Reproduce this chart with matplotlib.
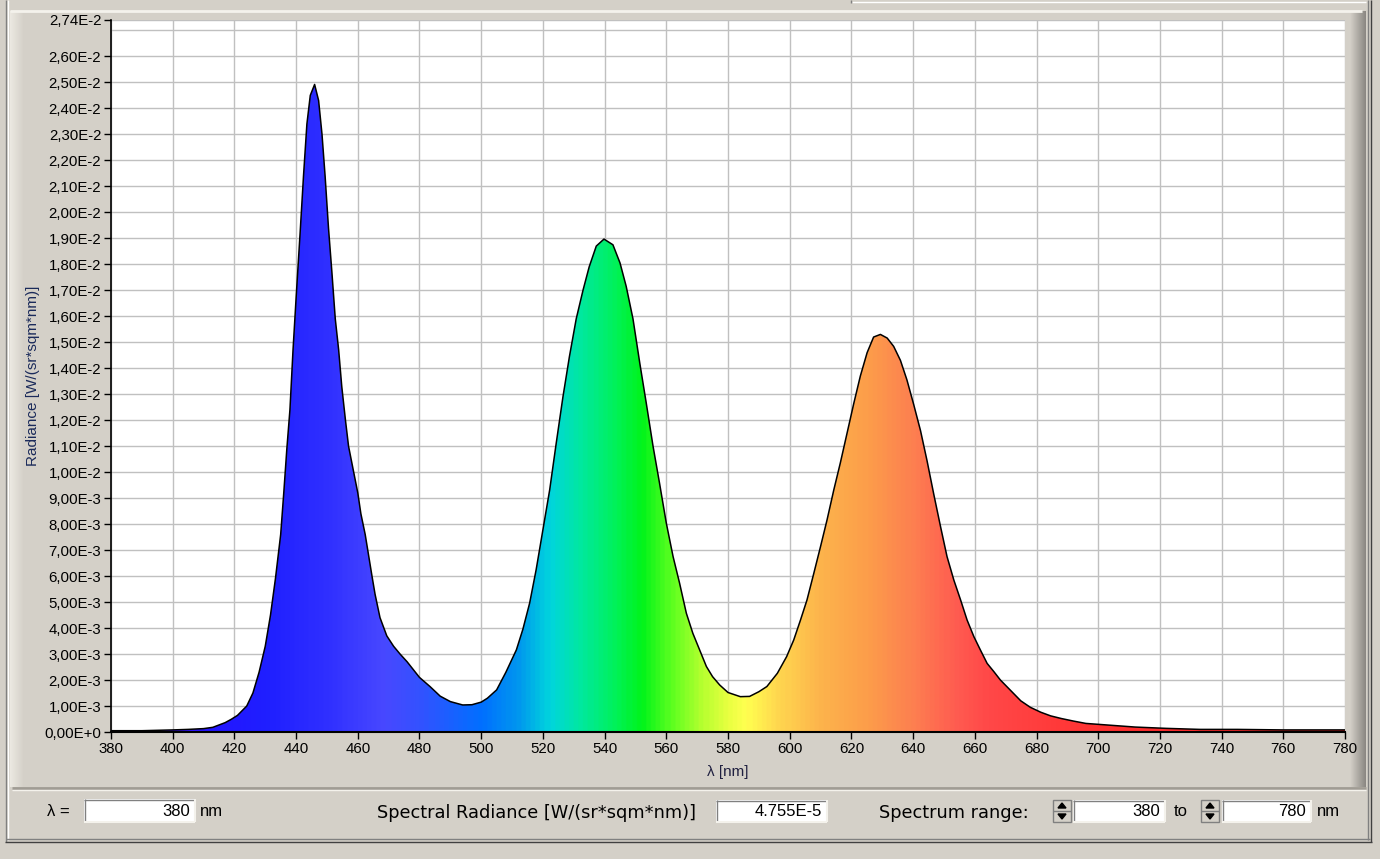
import numpy as np
import matplotlib
matplotlib.use('Agg')
import matplotlib.pyplot as plt
from matplotlib.colors import LinearSegmentedColormap, to_rgb
from matplotlib.patches import Rectangle, Polygon

plt.rcParams['font.family'] = ['Liberation Sans', 'DejaVu Sans']

# spectrum (nm, radiance in 1E-3 W/(sr*sqm*nm))
wavelength = [380, 390, 400, 405, 410, 413, 415, 417, 419, 421, 424, 426, 428, 430,
              431.7, 433.3, 435, 436, 437, 438, 439, 440, 441.4, 442.4, 443.5, 444.6,
              446, 447.3, 448.4, 449.4, 450.5, 451.6, 452.7, 453.8, 454.8, 456, 457,
              458, 459, 460, 461, 462.4, 463.5, 464.6, 465.6, 467.2, 469.4, 471.6,
              473.7, 476, 478, 480, 483.4, 486.7, 490, 494, 497, 500, 502, 505, 508,
              511.4, 513.5, 515.7, 517.8, 520, 522.2, 524.3, 526.5, 528.6, 530.8, 533,
              535, 537.3, 539.8, 542.7, 545, 547, 549.2, 551.4, 553.5, 555.7, 557.8,
              560, 562.2, 564.3, 566.5, 568.6, 570.8, 573, 575, 577.3, 580, 584, 587,
              590, 592.6, 596, 599, 601.3, 603.5, 605.6, 607.8, 610, 612.1, 614.3,
              616.4, 618.6, 620.8, 622.9, 625.1, 627.2, 629.4, 631.6, 633.7, 635.9,
              638, 640.2, 642.4, 644.5, 646.7, 648.9, 651, 653.2, 655.4, 657.5, 659.7,
              661.8, 664, 666.2, 668.3, 671.6, 674.9, 678, 681.4, 684.6, 688, 692, 696,
              703, 712, 722, 733, 745, 760, 780]
radiance_e3 = [0.05, 0.05, 0.08, 0.10, 0.13, 0.18, 0.27, 0.36, 0.49, 0.64, 1.0, 1.5, 2.3, 3.3,
               4.5, 5.9, 7.6, 9.2, 10.9, 12.4, 14.7, 16.7, 19.4, 21.4, 23.4, 24.5,
               24.92, 24.3, 23.0, 21.4, 19.4, 17.7, 15.9, 14.7, 13.3, 12.0, 11.0,
               10.4, 9.8, 9.2, 8.4, 7.6, 6.8, 6.0, 5.3, 4.4, 3.7, 3.3,
               3.0, 2.7, 2.4, 2.1, 1.75, 1.38, 1.17, 1.04, 1.05, 1.15, 1.3, 1.62, 2.3,
               3.16, 3.95, 4.96, 6.24, 7.78, 9.32, 11.1, 12.9, 14.45, 15.9, 17.0,
               17.9, 18.7, 18.97, 18.75, 18.05, 17.15, 15.9, 14.2, 12.66, 11.0, 9.58,
               8.04, 6.75, 5.73, 4.57, 3.8, 3.16, 2.52, 2.13, 1.81, 1.52, 1.36, 1.37,
               1.55, 1.75, 2.26, 2.9, 3.54, 4.31, 5.08, 6.1, 7.14, 8.16, 9.32,
               10.35, 11.5, 12.66, 13.7, 14.6, 15.2, 15.3, 15.16, 14.84, 14.3,
               13.55, 12.6, 11.6, 10.45, 9.15, 7.9, 6.75, 5.85, 5.08, 4.31, 3.67,
               3.16, 2.64, 2.32, 2.0, 1.6, 1.2, 0.95, 0.76, 0.62, 0.52, 0.42, 0.33,
               0.27, 0.19, 0.14, 0.10, 0.10, 0.08, 0.08]

x_ticks = list(range(380, 781, 20))
y_ticks = [i * 1e-3 for i in range(27)] + [0.0274]

# fill colour along the wavelength axis
color_stops = [(380, '#6a10ff'), (410, '#2414ff'), (430, '#1f1fff'), (450, '#3030ff'),
               (468, '#4848ff'), (480, '#3352ff'), (492, '#1464ff'), (500, '#0070ff'),
               (512, '#0098ee'), (522, '#00d5dd'), (532, '#00e8a0'), (544, '#00f255'),
               (552, '#00f41a'), (562, '#60ff20'), (572, '#b8ff30'), (580, '#e8ff40'),
               (586, '#ffff50'), (596, '#ffd84f'), (610, '#fdb44c'), (625, '#fc9e4a'),
               (640, '#fd8050'), (655, '#ff5a50'), (665, '#ff4848'), (700, '#ff3232'),
               (780, '#ff2424')]

W, H = 1380, 859
fig = plt.figure(figsize=(W / 100, H / 100), dpi=100, facecolor='#d4d0c8')

# decoration layer in pixel coordinates
bg = fig.add_axes([0, 0, 1, 1], zorder=-1)
bg.set_xlim(0, W)
bg.set_ylim(H, 0)
bg.axis('off')

def hline(y, x0, x1, c, lw=1):
    bg.plot([x0, x1], [y, y], color=c, lw=lw, solid_capstyle='butt')

def vline(x, y0, y1, c, lw=1):
    bg.plot([x, x], [y0, y1], color=c, lw=lw, solid_capstyle='butt')

# outer frame
vline(5.5, 0, 842, '#808080')
vline(8, 0, 840, '#ffffff')
hline(839, 6, 1370, '#808080')
hline(841.5, 5, 1372, '#404040')
vline(1368, 0, 840, '#808080')
vline(1371, 0, 842, '#404040')
hline(2, 852, 1366, '#ffffff')
vline(850.5, 0, 3, '#808080')
# chart panel
hline(10.5, 10, 1362, '#f4f2ec', 2)
shade = np.linspace(0, 1, 40).reshape(1, -1)
bg.imshow(shade, extent=[10, 24, 787, 11], cmap=LinearSegmentedColormap.from_list('l', ['#ece9e2', '#d4d0c8']),
          aspect='auto', zorder=0)
bg.imshow(shade, extent=[1350, 1366, 787, 11], cmap=LinearSegmentedColormap.from_list('r', ['#d4d0c8', '#8a8782']),
          aspect='auto', zorder=0)
hline(787.5, 12, 1366, '#a09c94', 2)
hline(789.5, 12, 1366, '#f4f2ec', 1)

# main plot
ax = fig.add_axes([111 / W, 1 - 732 / H, 1234 / W, 712 / H], zorder=1)
ax.set_facecolor('white')
wl = np.array(wavelength)
rad = np.array(radiance_e3) * 1e-3
ymax = 0.0274

ax.set_xlim(380, 780)
ax.set_ylim(0, ymax)
ax.set_yticks(y_ticks)
ax.set_xticks(x_ticks)
ax.grid(True, color='#c0c0c0', lw=1)
ax.axhline(0.027, color='#c0c0c0', lw=1, zorder=0.5)
ax.set_axisbelow(True)

def sci_label(v):
    if v == 0:
        return '0,00E+0'
    e = int(np.floor(np.log10(v) + 1e-9))
    m = f"{v / 10 ** e:.2f}".replace('.', ',')
    return f"{m}E{e:+d}" if e >= 0 else f"{m}E{e}"

ax.set_yticklabels([sci_label(v) for v in y_ticks])
ax.tick_params(axis='both', direction='out', length=5, width=1, color='black',
               labelsize=10.8, labelcolor='black')
ax.tick_params(axis='y', pad=2)
ax.tick_params(axis='x', pad=2)
for s in ['top', 'right']:
    ax.spines[s].set_visible(False)
ax.spines['left'].set_linewidth(1.2)
ax.spines['bottom'].set_linewidth(1.5)

stops = [((w - 380) / 400, to_rgb(c)) for w, c in color_stops]
cmap = LinearSegmentedColormap.from_list('spec', stops)
grad = np.linspace(0, 1, 800).reshape(1, -1)
im = ax.imshow(grad, extent=[380, 780, 0, ymax], aspect='auto', cmap=cmap,
               origin='lower', zorder=2, interpolation='bilinear')
poly = ax.fill_between(wl, rad, 0, facecolor='none', edgecolor='none')
im.set_clip_path(poly.get_paths()[0], transform=ax.transData)
ax.plot(wl, rad, color='black', lw=1.1, zorder=3)
ax.set_xlim(380, 780)
ax.set_ylim(0, ymax)

# axis titles
bg.text(33, 376, 'Radiance [W/(sr*sqm*nm)]', rotation=90, ha='center', va='center',
        fontsize=11, color='#1a2a5a')
bg.text(728, 772, 'λ [nm]', ha='center', va='center', fontsize=11, color='#202040')

# bottom panel
def text_box(x0, x1, y0, y1, txt):
    bg.add_patch(Rectangle((x0, y0), x1 - x0, y1 - y0, facecolor='white', edgecolor='none', zorder=1))
    hline(y0 + 0.5, x0, x1, '#808080')
    vline(x0 + 0.5, y0, y1, '#808080')
    hline(y1 - 0.5, x0, x1, '#f4f2ec', 1.5)
    vline(x1 - 0.5, y0, y1, '#f4f2ec', 1.5)
    bg.text(x1 - 5, (y0 + y1) / 2 + 0.5, txt, ha='right', va='center', fontsize=12, color='black')

def spin(x0, y0, y1):
    bg.add_patch(Rectangle((x0, y0), 18, y1 - y0, facecolor='#d4d0c8', edgecolor='#808080', lw=1, zorder=1))
    hline((y0 + y1) / 2, x0, x0 + 18, '#808080')
    cx = x0 + 9
    bg.add_patch(Polygon([[cx - 4, y0 + 8], [cx + 4, y0 + 8], [cx, y0 + 3]], color='black', zorder=2))
    bg.add_patch(Polygon([[cx - 4, y1 - 8], [cx + 4, y1 - 8], [cx, y1 - 3]], color='black', zorder=2))

bg.text(47, 811, 'λ =', ha='left', va='center', fontsize=12)
text_box(84, 195, 799, 822, '380')
bg.text(200, 811, 'nm', ha='left', va='center', fontsize=12)
bg.text(377, 813, 'Spectral Radiance [W/(sr*sqm*nm)]', ha='left', va='center', fontsize=12.8,
        family=['DejaVu Sans'])
text_box(716, 827, 800, 822, '4.755E-5')
bg.text(879, 813, 'Spectrum range:', ha='left', va='center', fontsize=12.8, family=['DejaVu Sans'])
spin(1053, 800, 822)
text_box(1073, 1165, 800, 822, '380')
bg.text(1174, 812, 'to', ha='left', va='center', fontsize=12)
spin(1201, 800, 822)
text_box(1222, 1311, 800, 822, '780')
bg.text(1317, 812, 'nm', ha='left', va='center', fontsize=12)

fig.savefig('out.png', dpi=100, facecolor=fig.get_facecolor())
